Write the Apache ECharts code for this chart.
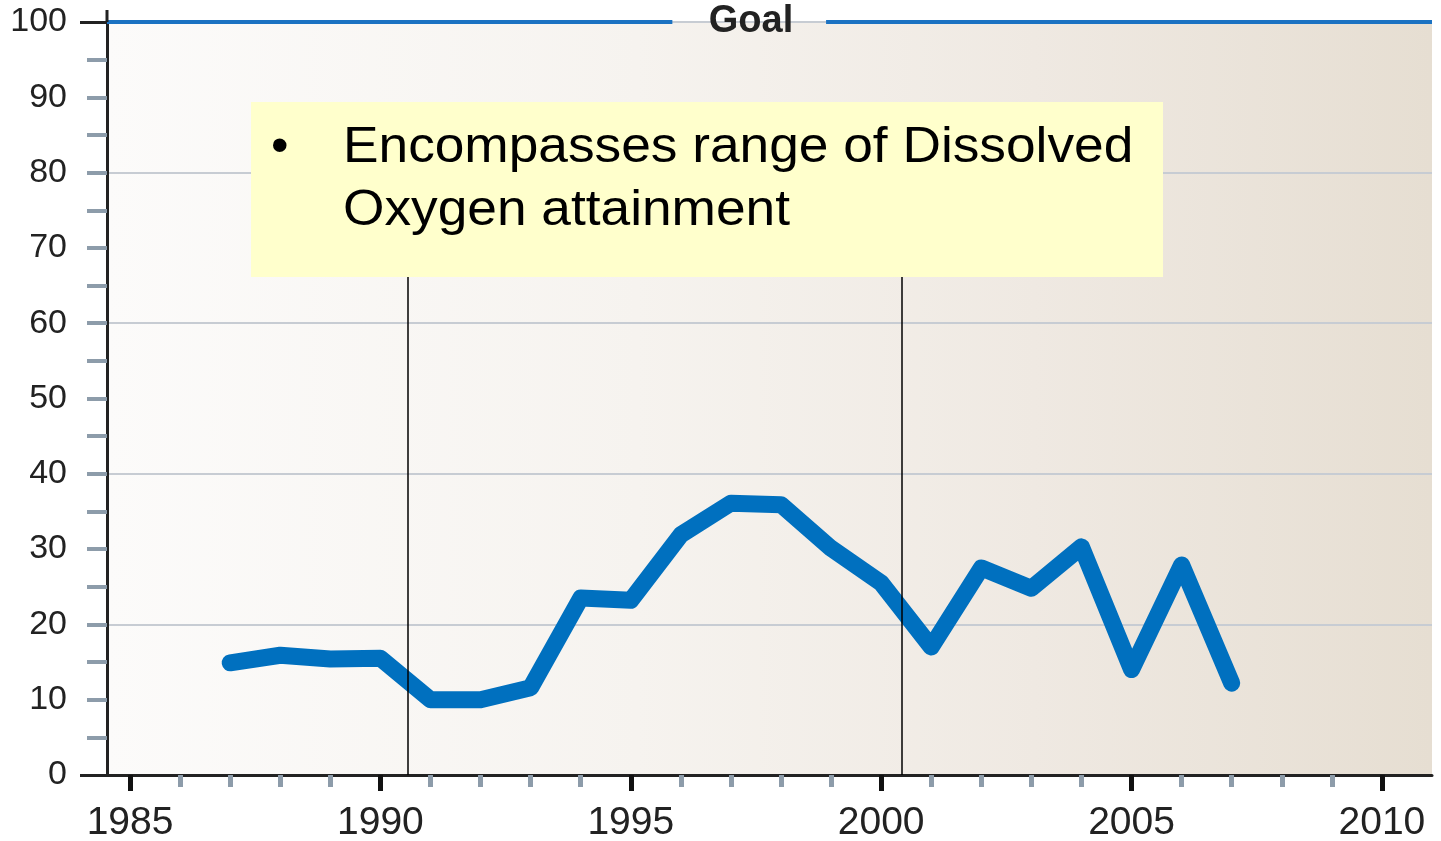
<!DOCTYPE html>
<html lang="en">
<head>
    <meta charset="UTF-8">
    <title>Dissolved Oxygen attainment</title>
    <script src="https://cdn.jsdelivr.net/npm/echarts@6/dist/echarts.min.js"></script>
    <style>
        html, body { margin: 0; padding: 0; background: #ffffff; }
        #chart { width: 1441px; height: 841px; }
    </style>
</head>
<body>
    <div id="chart"></div>
    <script>
        // data
        var years = [1987, 1988, 1989, 1990, 1991, 1992, 1993, 1994, 1995, 1996, 1997,
                     1998, 1999, 2000, 2001, 2002, 2003, 2004, 2005, 2006, 2007];
        var attainment = [14.9, 15.9, 15.4, 15.5, 10.0, 10.0, 11.6, 23.5, 23.2, 31.9, 36.1,
                          35.9, 30.1, 25.5, 17.0, 27.5, 24.8, 30.3, 14.0, 27.9, 12.2];
        var majorYears = [1985, 1990, 1995, 2000, 2005, 2010];
        var minorYears = [1986, 1987, 1988, 1989, 1991, 1992, 1993, 1994, 1996, 1997, 1998, 1999,
                          2001, 2002, 2003, 2004, 2006, 2007, 2008, 2009];
        var yMinorTicks = [5, 10, 15, 20, 25, 30, 35, 40, 45, 50, 55, 60, 65, 70, 75, 80, 85, 90, 95];
        var goalValue = 100;
        var goalLabel = 'Goal';
        var markerYears = [1990.55, 2000.42];
        var noteLines = ['Encompasses range of Dissolved', 'Oxygen attainment'];

        var xMin = 1984.54, xMax = 2011.0;
        var textColor = '#222222';
        var tickGray = '#8d9caa';
        var font = 'Liberation Sans, Arial, sans-serif';

        var chart = echarts.init(document.getElementById('chart'));

        var points = years.map(function (y, i) { return [y, attainment[i]]; });

        var option = {
            animation: false,
            grid: {
                left: 107, right: 9, top: 22, bottom: 66,
                outerBoundsMode: 'none',
                show: true, borderWidth: 0,
                backgroundColor: new echarts.graphic.LinearGradient(0, 0, 1, 0, [
                    { offset: 0, color: '#fcfbfa' },
                    { offset: 0.4, color: '#f6f3ef' },
                    { offset: 0.7, color: '#efe9e2' },
                    { offset: 1, color: '#e6ded2' }
                ])
            },
            xAxis: [{
                type: 'value', min: xMin, max: xMax, position: 'bottom',
                axisLine: { show: true, onZero: false, lineStyle: { color: textColor, width: 3 } },
                axisTick: { show: true, customValues: majorYears, length: 16,
                    lineStyle: { color: '#111', width: 5 } },
                axisLabel: { customValues: majorYears, margin: 29, color: textColor,
                    fontFamily: font, fontSize: 39,
                    formatter: function (v) { return String(v); } },
                splitLine: { show: false }
            }, {
                type: 'value', min: xMin, max: xMax, position: 'bottom',
                axisLine: { show: false, onZero: false },
                axisTick: { show: true, inside: false, customValues: minorYears, length: 12,
                    lineStyle: { color: tickGray, width: 5 } },
                axisLabel: { show: false },
                splitLine: { show: false }
            }],
            yAxis: [{
                type: 'value', min: 0, max: 100, interval: 10, position: 'left',
                axisLine: { show: true, onZero: false, lineStyle: { color: textColor, width: 3 } },
                axisTick: { show: true, customValues: [0, 100], length: 27,
                    lineStyle: { color: textColor, width: 3 } },
                axisLabel: { margin: 40, color: textColor, fontFamily: font, fontSize: 34 },
                splitLine: { show: false }
            }, {
                type: 'value', min: 0, max: 100, interval: 20, position: 'left',
                axisLine: { show: false, onZero: false },
                axisTick: { show: false },
                axisLabel: { show: false },
                splitLine: { show: true, lineStyle: { color: '#c7ccd3', width: 2 } }
            }, {
                type: 'value', min: 0, max: 100, interval: 5, position: 'left',
                axisLine: { show: false, onZero: false },
                axisTick: { show: true, customValues: yMinorTicks, length: 20,
                    lineStyle: { color: tickGray, width: 4 } },
                axisLabel: { show: false },
                splitLine: { show: false }
            }],
            series: [{
                type: 'line',
                data: points,
                symbol: 'none',
                z: 3,
                lineStyle: { color: '#0070bf', width: 17, cap: 'round', join: 'round' }
            }, {
                // goal line with a gap for its label, plus the two period markers
                type: 'line',
                data: [],
                z: 5,
                markLine: {
                    silent: true, symbol: 'none',
                    label: { show: false },
                    data: [
                        [{ coord: [xMin, goalValue], lineStyle: { color: '#1b72c2', width: 4, type: 'solid' } },
                         { coord: [1995.83, goalValue] }],
                        [{ coord: [1998.9, goalValue], lineStyle: { color: '#1b72c2', width: 4, type: 'solid' } },
                         { coord: [xMax, goalValue] }]
                    ].concat(markerYears.map(function (yr) {
                        return [{ coord: [yr, 0], lineStyle: { color: '#000', width: 1.5, type: 'solid' } },
                                { coord: [yr, 68] }];
                    }))
                },
                markPoint: {
                    silent: true, symbol: 'circle', symbolSize: 0,
                    data: [{ coord: [1997.4, goalValue] }],
                    label: { show: true, position: 'inside', formatter: goalLabel,
                        color: textColor, fontWeight: 'bold', fontSize: 38,
                        fontFamily: font, offset: [0, 0] }
                }
            }],
            graphic: [{
                type: 'line', z: 10,
                shape: { x1: 107, y1: 10, x2: 107, y2: 22 },
                style: { stroke: textColor, lineWidth: 3 }
            }, {
                type: 'rect', z: 100,
                shape: { x: 251, y: 102, width: 912, height: 175 },
                style: { fill: '#ffffcc' }
            }, {
                type: 'text', z: 101, x: 271, y: 148,
                style: { text: '\u2022', fill: '#000', font: '50px "Liberation Sans", Arial, sans-serif',
                    verticalAlign: 'middle' }
            }, {
                type: 'text', z: 101, x: 343, y: 148, scaleX: 1.065,
                style: { text: noteLines[0], fill: '#000', font: '50px "Liberation Sans", Arial, sans-serif',
                    verticalAlign: 'middle' }
            }, {
                type: 'text', z: 101, x: 343, y: 211, scaleX: 1.065,
                style: { text: noteLines[1], fill: '#000', font: '50px "Liberation Sans", Arial, sans-serif',
                    verticalAlign: 'middle' }
            }]
        };

        chart.setOption(option);
    </script>
</body>
</html>
